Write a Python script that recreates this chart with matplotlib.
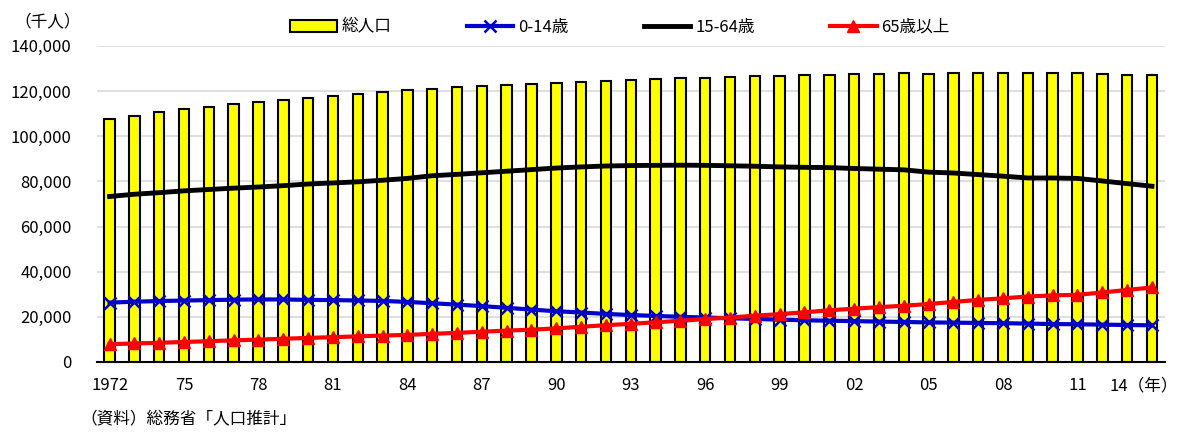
import matplotlib
matplotlib.use("Agg")
import matplotlib.pyplot as plt
import numpy as np

plt.rcParams['font.family'] = ['Noto Sans CJK JP', 'DejaVu Sans']

years = list(range(1972, 2015))
total = [107595, 109104, 110573, 111940, 113094, 114165, 115190, 116155, 117060, 117902,
         118728, 119536, 120305, 121049, 121660, 122239, 122745, 123205, 123611, 124101,
         124567, 124938, 125265, 125570, 125859, 126157, 126472, 126667, 126926, 127316,
         127486, 127694, 127787, 127768, 127901, 128033, 128084, 128032, 128057, 127799,
         127515, 127298, 127083]
age0_14 = [26300, 26700, 27000, 27221, 27400, 27600, 27700, 27700, 27507, 27400,
           27250, 27050, 26600, 26033, 25400, 24750, 24000, 23200, 22486, 21900,
           21300, 20800, 20400, 20014, 19690, 19370, 19060, 18740, 18472, 18280,
           18100, 17900, 17730, 17521, 17430, 17290, 17180, 17010, 16803, 16700,
           16550, 16390, 16233]
age15_64 = [73300, 74300, 75000, 75807, 76400, 77000, 77500, 78100, 78835, 79300,
            79800, 80500, 81300, 82506, 83100, 83800, 84500, 85200, 85904, 86400,
            86800, 87000, 87100, 87165, 87100, 86900, 86700, 86400, 86220, 86100,
            85700, 85400, 85100, 84092, 83700, 83000, 82300, 81500, 81500, 81300,
            80175, 79010, 77850]
age65 = [7900, 8200, 8500, 8865, 9200, 9600, 9900, 10300, 10647, 11000,
         11350, 11700, 12000, 12468, 12900, 13400, 13900, 14300, 14895, 15600,
         16300, 16900, 17600, 18261, 19000, 19700, 20500, 21200, 22005, 22900,
         23600, 24300, 24900, 25672, 26600, 27500, 28200, 29000, 29484, 29750,
         30790, 31900, 33000]
xtick_labels = ['1972', '75', '78', '81', '84', '87', '90', '93', '96', '99',
                '02', '05', '08', '11', '14']
yticks = [0, 20000, 40000, 60000, 80000, 100000, 120000, 140000]

fig = plt.figure(figsize=(11.79, 4.33), dpi=100)
ax = fig.add_axes([0.082, 0.164, 0.906, 0.730])
x = np.arange(len(years))

h_bar = ax.bar(x, total, width=0.42, color='#FFFF00', edgecolor='black', linewidth=1.5,
               label='総人口', zorder=2)
h1, = ax.plot(x, age0_14, color='#0000CC', linewidth=3, marker='x', markersize=9,
              markeredgewidth=1.8, label='0-14歳', zorder=3)
h2, = ax.plot(x, age15_64, color='black', linewidth=3.5, label='15-64歳', zorder=3)
h3, = ax.plot(x, age65, color='#FF0000', linewidth=3, marker='^', markersize=9,
              label='65歳以上', zorder=3)

ax.set_xlim(-0.52, len(years) - 0.48)
ax.set_ylim(0, 140000)
ax.set_yticks(yticks)
ax.set_yticklabels([f'{v:,}' for v in yticks], fontsize=12)
ax.yaxis.grid(True, color='#D9D9D9', linewidth=1.2, zorder=0)
ax.set_axisbelow(True)
tick_pos = list(range(0, len(years), 3))
labels = xtick_labels[:-1] + ['']
ax.set_xticks(tick_pos)
ax.set_xticklabels(labels, fontsize=12)
ax.tick_params(axis='x', length=0, pad=11)
ax.tick_params(axis='y', length=0, pad=18)
fig.text(0.999, 0.108, xtick_labels[-1] + '（年）', ha='right', va='center', fontsize=12)
for s in ['top', 'right', 'left']:
    ax.spines[s].set_visible(False)
ax.spines['bottom'].set_linewidth(1.5)

ax.legend(handles=[h_bar, h1, h2, h3], loc='lower center', bbox_to_anchor=(0.49, 0.985),
          ncol=4, frameon=False, fontsize=12, columnspacing=4.5, handlelength=2.8,
          handletextpad=0.3)

fig.text(0.012, 0.95, '（千人）', fontsize=12, ha='left', va='center')
fig.text(0.068, 0.03, '（資料）総務省「人口推計」', fontsize=12, ha='left', va='center')

fig.savefig('out.png', dpi=100)
